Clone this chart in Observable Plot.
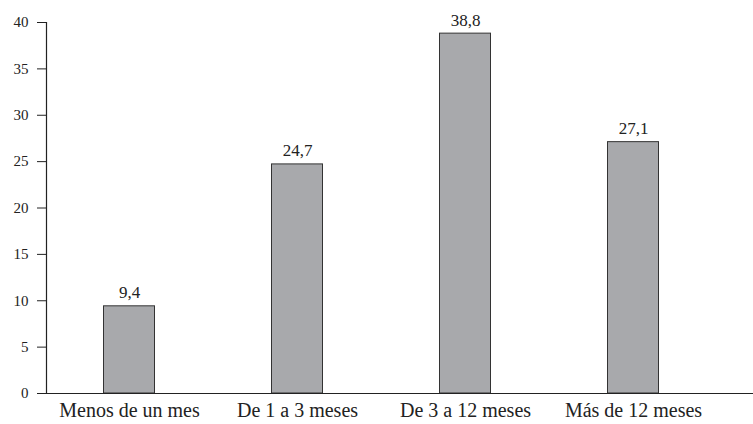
<!DOCTYPE html>
<html>
<head>
<meta charset="utf-8">
<script src="https://cdn.jsdelivr.net/npm/d3@7"></script>
<script src="https://cdn.jsdelivr.net/npm/@observablehq/plot@0.6"></script>
<style>
  body { margin: 0; background: #fff; }
  #chart svg { display: block; }
  #chart svg, #chart svg text, #chart svg g { font-family: "Liberation Serif", "DejaVu Serif", serif !important; }
</style>
</head>
<body>
<div id="chart"></div>
<script>
const categories = ["Menos de un mes", "De 1 a 3 meses", "De 3 a 12 meses", "Más de 12 meses"];
const values = [9.4, 24.7, 38.8, 27.1];
const labels = ["9,4", "24,7", "38,8", "27,1"];
const yTicks = [0, 5, 10, 15, 20, 25, 30, 35, 40];

const data = categories.map((c, i) => ({category: c, value: values[i], label: labels[i]}));

const chart = Plot.plot({
  width: 753,
  height: 424,
  marginTop: 22,
  marginBottom: 31,
  marginLeft: 46,
  marginRight: 0,
  style: {fontFamily: "Liberation Serif, serif", color: "#222", background: "#fff"},
  x: {domain: categories, range: [45, 717], padding: 0, label: null},
  y: {domain: [0, 40], label: null},
  marks: [
    Plot.barY(data, {x: "category", y: "value", fill: "#a8a9ac", stroke: "#333", strokeWidth: 1, insetLeft: 58.5, insetRight: 58.5}),
    Plot.text(data, {x: "category", y: "value", text: "label", dy: -8, lineAnchor: "bottom", fontSize: 17, fill: "#222"}),
    Plot.axisY({ticks: yTicks, tickSize: 9, tickPadding: 9, fontSize: 15, stroke: "#222"}),
    Plot.axisX({tickSize: 0, tickPadding: 9, fontSize: 20, fill: "#222"}),
    Plot.ruleY([0], {stroke: "#222", strokeWidth: 1.2}),
    Plot.frame({anchor: "left", stroke: "#222", strokeWidth: 1.2})
  ]
});
document.getElementById("chart").appendChild(chart);
</script>
</body>
</html>
